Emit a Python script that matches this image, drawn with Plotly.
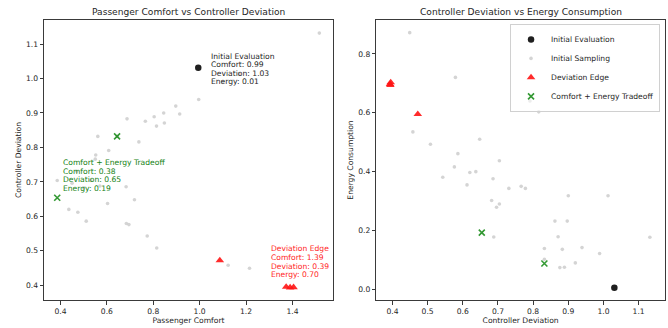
import plotly.graph_objects as go

# ---------------- data ----------------
# Initial sampling points: (comfort, deviation, energy)
init_comfort = [1.215, 1.123, 0.815, 0.774, 0.695, 0.684, 0.511, 0.475, 0.436, 0.603,
                0.719, 0.683, 0.386, 0.50, 0.57, 0.45, 0.53, 0.47, 0.55, 0.552,
                0.608, 0.738, 0.561, 0.645, 0.814, 0.848, 0.766, 0.687, 0.804, 0.914,
                0.845, 0.897, 0.996, 1.10, 1.17, 1.516]
init_deviation = [0.449, 0.458, 0.508, 0.543, 0.576, 0.579, 0.586, 0.612, 0.620, 0.637,
                  0.648, 0.686, 0.704, 0.682, 0.688, 0.696, 0.704, 0.731, 0.766, 0.778,
                  0.791, 0.816, 0.832, 0.832, 0.862, 0.871, 0.876, 0.883, 0.889, 0.897,
                  0.900, 0.920, 0.939, 0.989, 1.013, 1.132]
init_energy = [0.872, 0.535, 0.493, 0.381, 0.416, 0.720, 0.461, 0.355, 0.397, 0.400,
               0.510, 0.376, 0.437, 0.302, 0.178, 0.279, 0.290, 0.343, 0.350, 0.343,
               0.640, 0.603, 0.139, 0.102, 0.232, 0.179, 0.074, 0.136, 0.075, 0.232,
               0.318, 0.090, 0.142, 0.122, 0.318, 0.177]

eval_comfort = [0.994]
eval_deviation = [1.031]
eval_energy = [0.006]

edge_comfort = [1.087, 1.373, 1.390, 1.405]
edge_deviation = [0.472, 0.395, 0.393, 0.394]
edge_energy = [0.595, 0.703, 0.697, 0.694]

trade_comfort = [0.386, 0.644]
trade_deviation = [0.654, 0.832]
trade_energy = [0.193, 0.088]

left_xticks = [0.4, 0.6, 0.8, 1.0, 1.2, 1.4]
left_yticks = [0.4, 0.5, 0.6, 0.7, 0.8, 0.9, 1.0, 1.1]
right_xticks = [0.4, 0.5, 0.6, 0.7, 0.8, 0.9, 1.0, 1.1]
right_yticks = [0.0, 0.2, 0.4, 0.6, 0.8]

# ---------------- style ----------------
FS = 7.6
TFS = 9.1
FONT = "DejaVu Sans"
TXT = "#262626"
GRAY = "rgba(205,205,205,0.85)"
BLACK = "#1f1f1f"
RED = "rgba(255,20,20,0.9)"
GREEN = "rgba(0,128,0,0.8)"

fig = go.Figure()

def add_panel(xs, ys, xa, ya, legend):
    fig.add_trace(go.Scatter(x=xs[1], y=ys[1], mode="markers", xaxis=xa, yaxis=ya,
                             name="Initial Sampling", legendrank=2, showlegend=legend,
                             marker=dict(color=GRAY, size=3.6, line=dict(width=0))))
    fig.add_trace(go.Scatter(x=xs[0], y=ys[0], mode="markers", xaxis=xa, yaxis=ya,
                             name="Initial Evaluation", legendrank=1, showlegend=legend,
                             marker=dict(color=BLACK, size=6.5, line=dict(width=0))))
    fig.add_trace(go.Scatter(x=xs[2], y=ys[2], mode="markers", xaxis=xa, yaxis=ya,
                             name="Deviation Edge", legendrank=3, showlegend=legend,
                             marker=dict(color=RED, size=7.5, symbol="triangle-up",
                                         line=dict(width=0))))
    fig.add_trace(go.Scatter(x=xs[3], y=ys[3], mode="markers", xaxis=xa, yaxis=ya,
                             name="Comfort + Energy Tradeoff", legendrank=4, showlegend=legend,
                             marker=dict(color=GREEN, size=6, symbol="x-thin",
                                         line=dict(width=1.6, color=GREEN))))

add_panel([eval_comfort, init_comfort, edge_comfort, trade_comfort],
          [eval_deviation, init_deviation, edge_deviation, trade_deviation], "x", "y", False)
add_panel([eval_deviation, init_deviation, edge_deviation, trade_deviation],
          [eval_energy, init_energy, edge_energy, trade_energy], "x2", "y2", True)

axis_common = dict(showgrid=False, zeroline=False, showline=True, mirror=True,
                   linecolor="#3a3a3a", linewidth=1, ticks="outside", ticklen=3.5,
                   tickwidth=0.8, tickcolor="#3a3a3a", tickformat=".1f",
                   tickfont=dict(family=FONT, size=FS, color=TXT))

fig.update_layout(
    width=668, height=328,
    margin=dict(l=44, r=3, t=20, b=28),
    paper_bgcolor="white", plot_bgcolor="white",
    font=dict(family=FONT, size=FS, color=TXT),
    xaxis=dict(domain=[0, 0.4654], range=[0.329, 1.575], tickvals=left_xticks,
               title=dict(text="Passenger Comfort", standoff=2,
                          font=dict(family=FONT, size=FS, color=TXT)), **axis_common),
    yaxis=dict(range=[0.357, 1.170], tickvals=left_yticks,
               title=dict(text="Controller Deviation", standoff=3,
                          font=dict(family=FONT, size=FS, color=TXT)), **axis_common),
    xaxis2=dict(domain=[0.5351, 1.0], anchor="y2", range=[0.354, 1.175], tickvals=right_xticks,
                title=dict(text="Controller Deviation", standoff=2,
                           font=dict(family=FONT, size=FS, color=TXT)), **axis_common),
    yaxis2=dict(anchor="x2", range=[-0.036, 0.915], tickvals=right_yticks,
                title=dict(text="Energy Consumption", standoff=3,
                           font=dict(family=FONT, size=FS, color=TXT)), **axis_common),
    legend=dict(x=0.992, y=0.986, xanchor="right", yanchor="top",
                bgcolor="rgba(255,255,255,0.55)", bordercolor="#d0d0d0", borderwidth=1,
                font=dict(family=FONT, size=FS, color=TXT), itemwidth=30,
                tracegroupgap=0),
    showlegend=True,
)

# subplot titles
fig.add_annotation(text="Passenger Comfort vs Controller Deviation", xref="x domain", yref="y domain",
                   x=0.5, y=1, yanchor="bottom", xanchor="center", yshift=1, showarrow=False,
                   font=dict(family=FONT, size=TFS, color=TXT))
fig.add_annotation(text="Controller Deviation vs Energy Consumption", xref="x2 domain", yref="y2 domain",
                   x=0.5, y=1, yanchor="bottom", xanchor="center", yshift=1, showarrow=False,
                   font=dict(family=FONT, size=TFS, color=TXT))

# point annotations (left panel), one annotation per text line
def label(x, y, lines, color, xshift, yshifts):
    for line, ys in zip(lines, yshifts):
        fig.add_annotation(text=line, x=x, y=y, xref="x", yref="y", showarrow=False,
                           xanchor="left", yanchor="middle", xshift=xshift, yshift=ys,
                           font=dict(family=FONT, size=FS, color=color))

label(eval_comfort[0], eval_deviation[0],
      ["Initial Evaluation", "Comfort: 0.99", "Deviation: 1.03", "Energy: 0.01"],
      TXT, 11, [11.6, 3.2, -5.2, -13.6])
label(edge_comfort[2], edge_deviation[2],
      ["Deviation Edge", "Comfort: 1.39", "Deviation: 0.39", "Energy: 0.70"],
      "rgb(255,30,30)", -21.5, [38.7, 30.1, 21.5, 12.9])
label(trade_comfort[0], trade_deviation[0],
      ["Comfort + Energy Tradeoff", "Comfort: 0.38", "Deviation: 0.65", "Energy: 0.19"],
      "rgb(20,130,20)", 4, [35.2, 26.7, 18.2, 9.7])

fig.write_html("out.html", config={"displayModeBar": False},
               post_script="document.body.style.margin='0';document.body.style.overflow='hidden';")
